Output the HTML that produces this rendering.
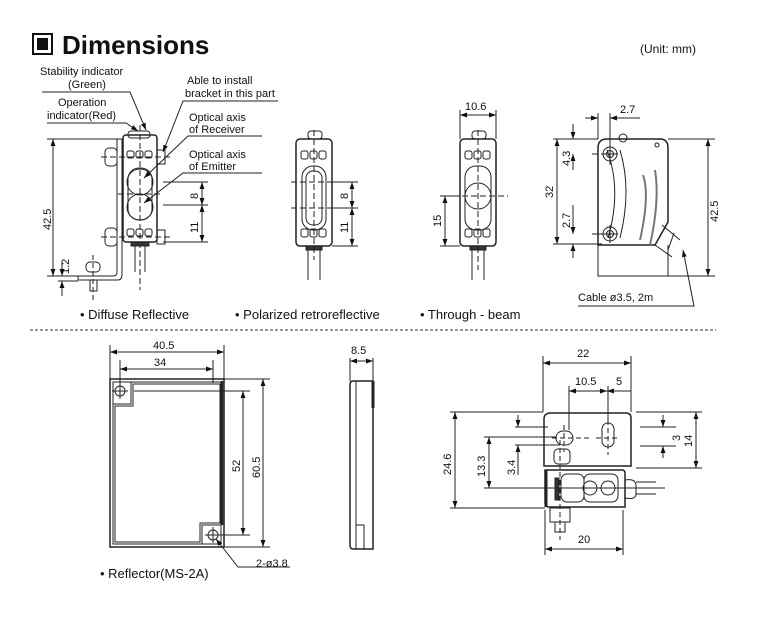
<!DOCTYPE html>
<html><head><meta charset="utf-8"><style>
body{margin:0;background:#fff}
svg{display:block}
text{font-family:"Liberation Sans",sans-serif;fill:#111}
</style></head><body>
<svg width="776" height="640" viewBox="0 0 776 640" xmlns="http://www.w3.org/2000/svg">
<defs>
<marker id="a" viewBox="0 0 10 10" refX="10" refY="5" markerWidth="7" markerHeight="7" orient="auto-start-reverse"><path d="M0,1.5L10,5L0,8.5z" fill="#111"/></marker>
</defs>
<!-- title -->
<rect x="33" y="34" width="19" height="20" fill="none" stroke="#111" stroke-width="2"/>
<rect x="37" y="38" width="11" height="12" fill="#111"/>
<text x="62" y="54" font-size="26" font-weight="bold">Dimensions</text>
<text x="640" y="53" font-size="12">(Unit: mm)</text>

<g stroke="#222" stroke-width="1" fill="none">
<!-- ===== Diffuse ===== -->
<path d="M117,139 V272 Q117,276 113,276 H78 V280 H118 Q122,280 122,274 V139 Z" fill="#fff"/>
<rect x="128" y="131" width="22" height="7" rx="3"/>
<rect x="123" y="135" width="34" height="107" rx="3" stroke-width="1.5"/>
<circle cx="140" cy="182" r="13"/><circle cx="140" cy="207" r="13"/>
<rect x="128" y="168" width="24" height="52" rx="11"/>
<rect x="127" y="151" width="7" height="7" rx="2"/><rect x="136" y="151" width="7" height="7" rx="2"/><rect x="145" y="151" width="7" height="7" rx="2"/>
<rect x="127" y="229" width="7" height="7" rx="2"/><rect x="136" y="229" width="7" height="7" rx="2"/><rect x="145" y="229" width="7" height="7" rx="2"/>
<rect x="105" y="148" width="12" height="18" rx="4"/><rect x="105" y="228" width="12" height="18" rx="4"/>
<rect x="157" y="150" width="8" height="14"/><rect x="157" y="230" width="8" height="14"/>
<path d="M101,157H172M101,237H172M140,125V290M118,194H162" stroke-dasharray="6,3"/>
<path d="M135,242V272M145,242V272"/>
<rect x="131" y="242" width="18" height="4" fill="#333"/>
<rect x="86" y="262" width="14" height="10" rx="4"/><rect x="90" y="280" width="7" height="11"/>
<path d="M93,255V300" stroke-dasharray="5,3"/>
<path d="M47,139H117M47,276H78"/>
<path d="M53,139V276" marker-start="url(#a)" marker-end="url(#a)"/>
<path d="M62,262V276" marker-end="url(#a)"/><path d="M62,296V281" marker-end="url(#a)"/>
<path d="M58,281H78"/>
<path d="M163,182H208M163,205H208M163,242H208"/>
<path d="M202,182V205" marker-start="url(#a)" marker-end="url(#a)"/>
<path d="M202,205V242" marker-start="url(#a)" marker-end="url(#a)"/>
<path d="M42,92H130L146,130" marker-end="url(#a)"/>
<path d="M47,123H126L138,131" marker-end="url(#a)"/>
<path d="M278,101H183L163,152" marker-end="url(#a)"/>
<path d="M262,136H188L144,178" marker-end="url(#a)"/>
<path d="M262,173H183L144,203" marker-end="url(#a)"/>

<!-- ===== Polarized ===== -->
<rect x="308" y="131" width="14" height="8" rx="3"/>
<rect x="296" y="139" width="36" height="107" rx="4" stroke-width="1.5"/>
<rect x="302" y="166" width="24" height="64" rx="11"/>
<rect x="306" y="171" width="16" height="54" rx="7"/>
<rect x="301" y="151" width="7" height="8" rx="2"/><rect x="310" y="151" width="7" height="8" rx="2"/><rect x="319" y="151" width="7" height="8" rx="2"/>
<rect x="301" y="229" width="7" height="8" rx="2"/><rect x="310" y="229" width="7" height="8" rx="2"/><rect x="319" y="229" width="7" height="8" rx="2"/>
<rect x="306" y="246" width="16" height="4" fill="#333"/>
<path d="M308,250V280M320,250V280"/>
<path d="M314,130V260M291,182H340M291,208H340" stroke-dasharray="6,3"/>
<path d="M332,182H358M332,208H358M332,246H358"/>
<path d="M352,182V208" marker-start="url(#a)" marker-end="url(#a)"/>
<path d="M352,208V246" marker-start="url(#a)" marker-end="url(#a)"/>

<!-- ===== Through ===== -->
<rect x="472" y="131" width="14" height="8" rx="3"/>
<rect x="460" y="139" width="36" height="107" rx="4" stroke-width="1.5"/>
<rect x="465" y="166" width="26" height="64" rx="11"/>
<circle cx="478" cy="196" r="13"/>
<rect x="465" y="151" width="7" height="8" rx="2"/><rect x="474" y="151" width="7" height="8" rx="2"/><rect x="483" y="151" width="7" height="8" rx="2"/>
<rect x="465" y="229" width="7" height="8" rx="2"/><rect x="474" y="229" width="7" height="8" rx="2"/><rect x="483" y="229" width="7" height="8" rx="2"/>
<rect x="470" y="246" width="16" height="4" fill="#333"/>
<path d="M472,250V280M484,250V280"/>
<path d="M478,130V270M444,196H508" stroke-dasharray="6,3"/>
<path d="M460,110V139M496,110V139"/>
<path d="M460,115H496" marker-start="url(#a)" marker-end="url(#a)"/>
<path d="M440,196H460M440,246H460"/>
<path d="M445,196V246" marker-start="url(#a)" marker-end="url(#a)"/>

<!-- ===== Side ===== -->
<path d="M598,148Q598,139 607,139H660Q668,139 668,148V222L655,245H598Z" stroke-width="1.5"/>
<path d="M598,245V276H668V245"/>
<path d="M607,150Q622,190 608,238M620,150Q632,190 620,238"/>
<path d="M643,175Q650,195 640,240M655,170Q660,200 650,245" stroke-width="2" stroke="#777"/>
<circle cx="610" cy="154" r="7"/><circle cx="610" cy="154" r="3.5"/>
<circle cx="610" cy="234" r="7"/><circle cx="610" cy="234" r="3.5"/>
<circle cx="623" cy="138" r="4"/><circle cx="657" cy="145" r="2"/>
<path d="M662,225L680,240M655,245L672,257M674,233L668,250"/>
<path d="M610,145V165M601,154H618M610,225V243M601,234H618"/>
<path d="M592,139H598M592,234H603M592,154H598"/>
<path d="M553,139H598M553,244H602"/>
<path d="M557,139V244" marker-start="url(#a)" marker-end="url(#a)"/>
<path d="M573,124V139" marker-end="url(#a)"/><path d="M573,170V154" marker-end="url(#a)"/>
<path d="M573,205V234" marker-end="url(#a)"/><path d="M573,258V244" marker-end="url(#a)"/>
<path d="M598,113V139M610,113V147"/>
<path d="M585,118H598" marker-end="url(#a)"/><path d="M640,118H610" marker-end="url(#a)"/>
<path d="M668,139H715M668,276H715"/>
<path d="M708,139V276" marker-start="url(#a)" marker-end="url(#a)"/>
<path d="M578,306H694L683,250" marker-end="url(#a)"/>
</g>
<g font-size="11">
<text x="40" y="75">Stability indicator</text><text x="68" y="88">(Green)</text>
<text x="58" y="106">Operation</text><text x="47" y="119">indicator(Red)</text>
<text x="187" y="84">Able to install</text><text x="185" y="97">bracket in this part</text>
<text x="189" y="121">Optical axis</text><text x="189" y="133">of Receiver</text>
<text x="189" y="158">Optical axis</text><text x="189" y="170">of Emitter</text>
<text x="578" y="301">Cable ø3.5, 2m</text>
<text x="465" y="110">10.6</text><text x="620" y="113">2.7</text>
<text transform="translate(51,230) rotate(-90)">42.5</text>
<text transform="translate(69,274) rotate(-90)">1.2</text>
<text transform="translate(198,199) rotate(-90)">8</text>
<text transform="translate(198,233) rotate(-90)">11</text>
<text transform="translate(348,199) rotate(-90)">8</text>
<text transform="translate(348,233) rotate(-90)">11</text>
<text transform="translate(441,227) rotate(-90)">15</text>
<text transform="translate(553,198) rotate(-90)">32</text>
<text transform="translate(570,166) rotate(-90)">4.3</text>
<text transform="translate(570,228) rotate(-90)">2.7</text>
<text transform="translate(718,222) rotate(-90)">42.5</text>
</g>
<g font-size="13">
<text x="80" y="319">• Diffuse Reflective</text>
<text x="235" y="319">• Polarized retroreflective</text>
<text x="420" y="319">• Through - beam</text>
<text x="100" y="578">• Reflector(MS-2A)</text>
</g>
<line x1="30" y1="330" x2="716" y2="330" stroke="#333" stroke-dasharray="3,2"/>

<g stroke="#222" stroke-width="1" fill="none">
<rect x="110" y="379" width="114" height="168" stroke-width="1.5"/>
<path d="M113,382H221V544H113Z"/>
<path d="M131,382V404H113"/><path d="M221,525H202V544"/>
<path d="M133,384H220V523H200V542H115V406H133Z"/>
<path d="M222,381V525" stroke-width="2.5"/>
<circle cx="120" cy="391" r="5"/><circle cx="213" cy="535" r="5"/>
<path d="M120,383V399M112,391H128M213,527V543M205,535H221"/>
<path d="M110,345V379M224,345V379M120,360V383M213,360V383"/>
<path d="M110,352H224" marker-start="url(#a)" marker-end="url(#a)"/>
<path d="M120,369H213" marker-start="url(#a)" marker-end="url(#a)"/>
<path d="M134,391H250M224,379H270M220,535H250M224,547H270"/>
<path d="M243,391V535" marker-start="url(#a)" marker-end="url(#a)"/>
<path d="M263,379V547" marker-start="url(#a)" marker-end="url(#a)"/>
<path d="M290,567H238L216,539" marker-end="url(#a)"/>
<path d="M353,381H373V549H353Q350,549 350,545V385Q350,381 353,381Z" stroke-width="1.5"/>
<path d="M356,381V549M356,525H364V549"/>
<path d="M373,381V408" stroke-width="3"/>
<path d="M350,358V381M373,358V381"/>
<path d="M350,361H373" marker-start="url(#a)" marker-end="url(#a)"/>

<path d="M551,413H626Q631,413 631,418V466H544V419Q544,413 551,413Z" stroke-width="1.5"/>
<path d="M545,470H622Q625,470 625,473V507H549Q545,507 545,503Z" stroke-width="1.5"/>
<path d="M546,470V507" stroke-width="3"/>
<rect x="555" y="478" width="4" height="22" fill="#333"/>
<rect x="561" y="474" width="23" height="28" rx="6"/>
<rect x="584" y="474" width="34" height="28" rx="6"/>
<circle cx="590" cy="488" r="7"/><circle cx="608" cy="488" r="7"/>
<path d="M625,480Q636,478 636,486V494Q636,500 625,498M636,482H656M636,494H656"/>
<rect x="554" y="449" width="16" height="15" rx="4"/>
<rect x="550" y="508" width="20" height="14"/><rect x="555" y="522" width="10" height="10"/>
<rect x="556" y="431" width="17" height="14" rx="7"/>
<rect x="602" y="423" width="12" height="24" rx="6"/>
<path d="M564,425V452M552,438H590M608,404V455M596,438H620M560,440V540" stroke-dasharray="5,3"/>
<path d="M569,386V430M608,386V420"/>
<path d="M543,356V412M631,356V412"/>
<path d="M543,363H631" marker-start="url(#a)" marker-end="url(#a)"/>
<path d="M569,391H607" marker-start="url(#a)" marker-end="url(#a)"/>
<path d="M631,391H607" marker-end="url(#a)"/>
<path d="M450,412H543M450,508H545M484,437H556M484,488H665M515,427H548M515,445H560M640,427H676M640,446H676M636,412H702M636,468H702"/>
<path d="M455,412V508" marker-start="url(#a)" marker-end="url(#a)"/>
<path d="M489,437V488" marker-start="url(#a)" marker-end="url(#a)"/>
<path d="M518,415V427" marker-end="url(#a)"/><path d="M518,475V445" marker-end="url(#a)"/>
<path d="M663,415V427" marker-end="url(#a)"/><path d="M663,458V446" marker-end="url(#a)"/>
<path d="M696,412V468" marker-start="url(#a)" marker-end="url(#a)"/>
<path d="M545,510V555M623,510V555"/>
<path d="M545,549H623" marker-start="url(#a)" marker-end="url(#a)"/>
</g>
<g font-size="11">
<text x="153" y="349">40.5</text><text x="154" y="366">34</text>
<text x="256" y="567">2-ø3.8</text>
<text x="351" y="354">8.5</text>
<text x="577" y="357">22</text><text x="575" y="385">10.5</text><text x="616" y="385">5</text>
<text x="578" y="543">20</text>
<text transform="translate(240,472) rotate(-90)">52</text>
<text transform="translate(260,478) rotate(-90)">60.5</text>
<text transform="translate(451,475) rotate(-90)">24.6</text>
<text transform="translate(485,477) rotate(-90)">13.3</text>
<text transform="translate(515,475) rotate(-90)">3.4</text>
<text transform="translate(680,441) rotate(-90)">3</text>
<text transform="translate(692,447) rotate(-90)">14</text>
</g>
</svg>
</body></html>
